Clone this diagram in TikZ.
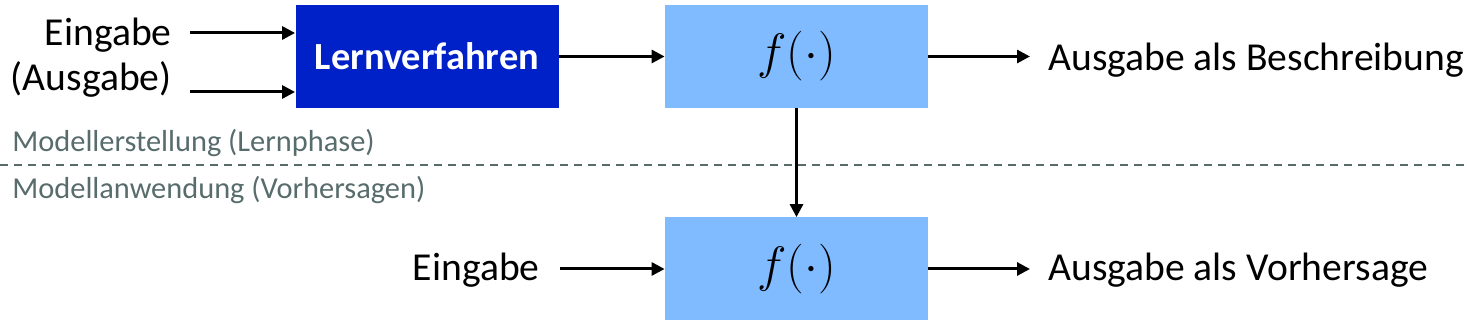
\documentclass[tikz,border=0pt]{standalone}
\usepackage{fontspec}
\setmainfont{Carlito}
\usetikzlibrary{arrows.meta}

\definecolor{dunkelblau}{RGB}{0,32,200}
\definecolor{hellblau}{RGB}{128,186,255}
\definecolor{phasengrau}{RGB}{88,108,108}

\tikzset{
  block/.style={minimum width=131.5pt,minimum height=51.5pt,inner sep=0pt},
  formel/.style={block,fill=hellblau,font=\fontsize{25}{28}\selectfont},
  pfeil/.style={line width=1.5pt,-{Triangle[length=6.5pt,width=6.5pt]}},
  beschriftung/.style={font=\fontsize{19.8}{22.5}\selectfont,inner sep=0pt},
  phase/.style={font=\fontsize{15.2}{18}\selectfont,text=phasengrau,inner sep=0pt,anchor=west}
}

\begin{document}
\begin{tikzpicture}[x=0.5pt,y=-0.5pt]

    \useasboundingbox (0,0) rectangle (1467,325);

    % Lernphase
    \node[block,fill=dunkelblau,text=white,font=\fontsize{19.2}{22}\selectfont\bfseries] (lern) at (427,56.5) {Lernverfahren};
    \node[formel] (modell) at (796.5,56.5) {$f(\cdot)$};
    \node[beschriftung,align=right,anchor=east] (eingabeA) at (172,58) {Eingabe\\(Ausgabe)};
    \node[beschriftung,anchor=west] (beschreibung) at (1048,60) {Ausgabe als Beschreibung};

    \coordinate (in1) at (190,33);
    \coordinate (in2) at (190,92);
    \coordinate (aus1) at (1030,60);
    \draw[pfeil] (in1) -- (in1 -| lern.west);
    \draw[pfeil] (in2) -- (in2 -| lern.west);
    \draw[pfeil] (lern) -- (modell);
    \draw[pfeil] (modell) -- (modell -| aus1);

    % Trennlinie
    \coordinate (links) at (0,165);
    \coordinate (rechts) at (1467,165);
    \draw[phasengrau,line width=0.8pt,dash pattern=on 4pt off 3pt] (links) -- (rechts);
    \node[phase] (lernphase) at (12,143) {Modellerstellung (Lernphase)};
    \node[phase] (anwendung) at (12,190) {Modellanwendung (Vorhersagen)};

    % Vorhersage
    \node[formel] (vorhersage) at (796.5,269) {$f(\cdot)$};
    \node[beschriftung,anchor=east] (eingabeB) at (540,270) {Eingabe};
    \node[beschriftung,anchor=west] (ergebnis) at (1048,270) {Ausgabe als Vorhersage};

    \coordinate (aus2) at (1030,269);
    \draw[pfeil] (modell) -- (vorhersage);
    \draw[pfeil] ([xshift=10pt]eingabeB.east |- vorhersage) -- (vorhersage);
    \draw[pfeil] (vorhersage) -- (aus2);

\end{tikzpicture}
\end{document}
